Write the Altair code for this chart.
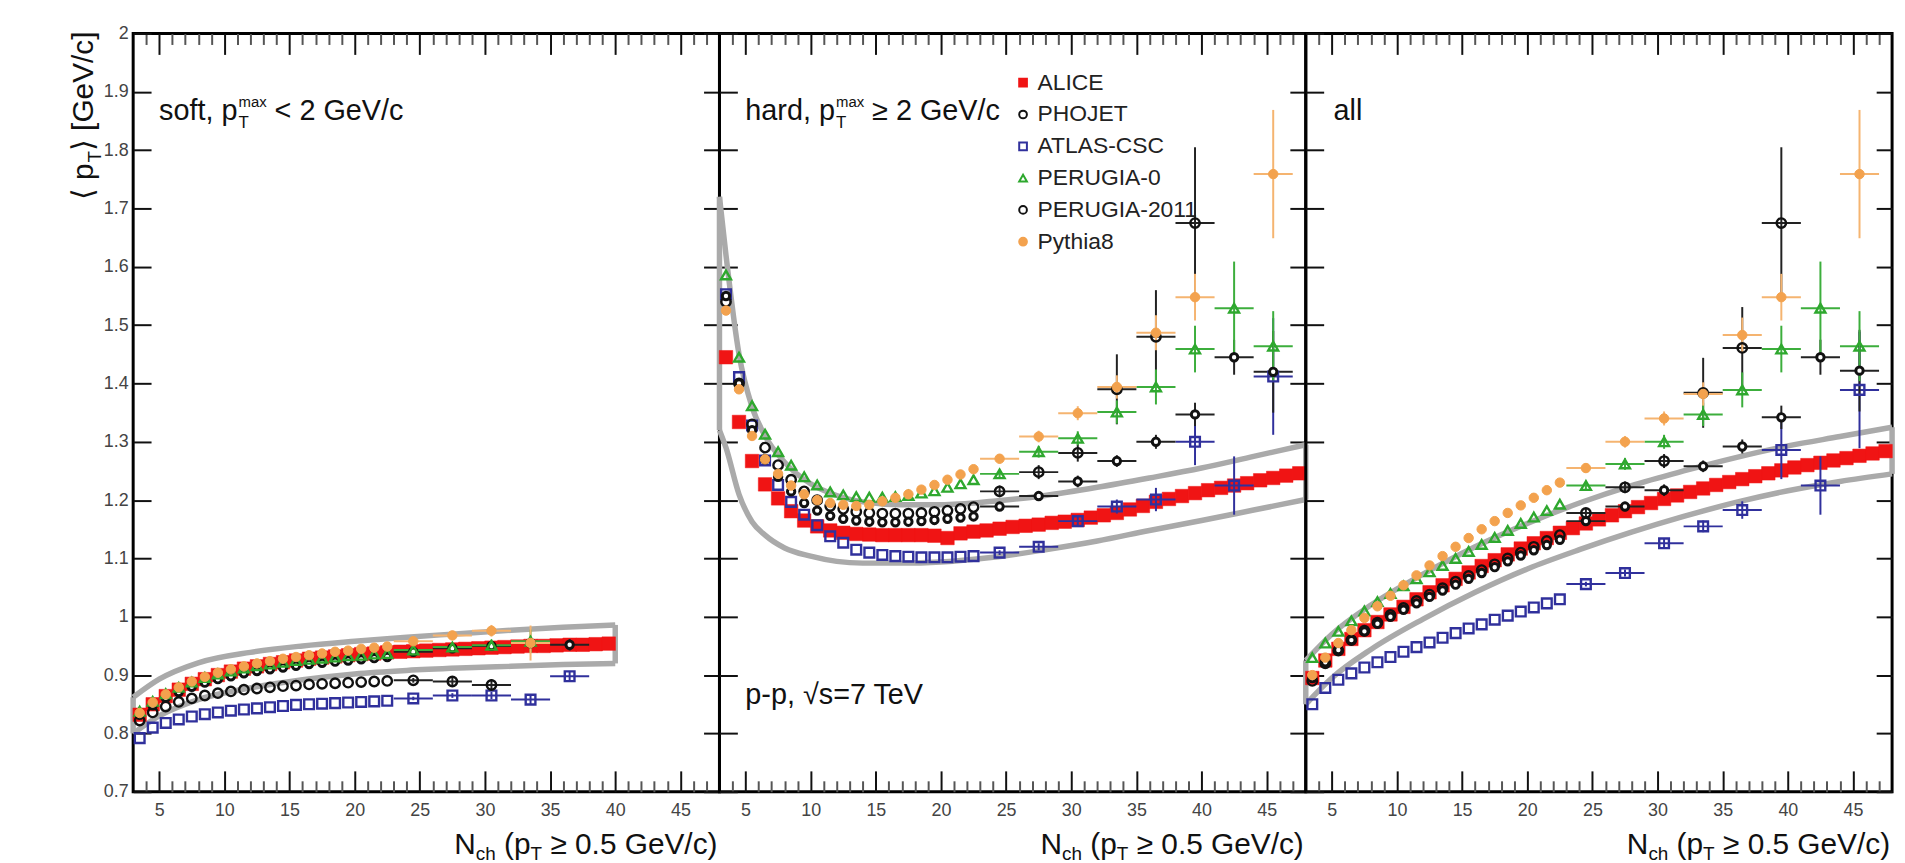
import altair as alt
import pandas as pd

FONT = "Liberation Sans"
W, H = 590, 763

SERIES = ["ALICE", "PHOJET", "ATLAS-CSC", "PERUGIA-0", "PERUGIA-2011", "Pythia8"]

# bin centres of the multiplicity classes
DENSE_N = [3.5, 4.5, 5.5, 6.5, 7.5, 8.5, 9.5, 10.5, 11.5, 12.5,
           13.5, 14.5, 15.5, 16.5, 17.5, 18.5, 19.5, 20.5, 21.5, 22.5]
BIN_N = [24.5, 27.5, 30.5, 33.5, 36.5, 39.5, 42.5, 45.5]
BIN_HALF = 1.5
ALICE_N_SOFT = [3.5, 4.5, 5.5, 6.5, 7.5, 8.5, 9.5, 10.5, 11.5, 12.5, 13.5, 14.5, 15.5,
                16.5, 17.5, 18.5, 19.5, 20.5, 21.5, 22.5, 23.5, 24.5, 25.5, 26.5, 27.5,
                28.5, 29.5, 30.5, 31.5, 32.5, 33.5, 34.5, 35.5, 36.5, 37.5, 38.5, 39.5]
ALICE_N_FULL = [3.5, 4.5, 5.5, 6.5, 7.5, 8.5, 9.5, 10.5, 11.5, 12.5, 13.5, 14.5, 15.5,
                16.5, 17.5, 18.5, 19.5, 20.5, 21.5, 22.5, 23.5, 24.5, 25.5, 26.5, 27.5,
                28.5, 29.5, 30.5, 31.5, 32.5, 33.5, 34.5, 35.5, 36.5, 37.5, 38.5, 39.5,
                40.5, 41.5, 42.5, 43.5, 44.5, 45.5, 46.5, 47.5]

X_MAJOR = [5, 10, 15, 20, 25, 30, 35, 40, 45]
X_MINOR = [4, 6, 7, 8, 9, 11, 12, 13, 14, 16, 17, 18, 19, 21, 22, 23, 24, 26, 27, 28, 29,
           31, 32, 33, 34, 36, 37, 38, 39, 41, 42, 43, 44, 46, 47]
Y_TICKS = [0.7, 0.8, 0.9, 1.0, 1.1, 1.2, 1.3, 1.4, 1.5, 1.6, 1.7, 1.8, 1.9, 2.0]

# ---------------- soft ----------------
SOFT_ALICE = [0.832, 0.850, 0.864, 0.875, 0.885, 0.893, 0.900, 0.906, 0.911, 0.915,
              0.919, 0.922, 0.925, 0.928, 0.930, 0.932, 0.934, 0.936, 0.937, 0.939,
              0.940, 0.941, 0.942, 0.943, 0.944, 0.945, 0.946, 0.947, 0.948, 0.949,
              0.950, 0.950, 0.951, 0.952, 0.952, 0.953, 0.954]
SOFT_BAND_N = [3, 5, 8, 12, 16, 20, 24, 28, 32, 36, 40]
SOFT_BAND_HI = [0.862, 0.893, 0.921, 0.939, 0.950, 0.958, 0.965, 0.971, 0.977, 0.982, 0.986]
SOFT_BAND_LO = [0.800, 0.830, 0.858, 0.878, 0.892, 0.902, 0.908, 0.912, 0.915, 0.918, 0.920]

SOFT_PHOJET = [0.822, 0.836, 0.846, 0.854, 0.860, 0.865, 0.869, 0.872, 0.875, 0.877,
               0.879, 0.881, 0.882, 0.884, 0.885, 0.886, 0.887, 0.888, 0.889, 0.890]
SOFT_PHOJET_BINS = [0.891, 0.889, 0.883]
SOFT_PHOJET_ERR = [0.004, 0.006, 0.010]
SOFT_ATLAS = [0.792, 0.810, 0.818, 0.824, 0.829, 0.833, 0.836, 0.839, 0.841, 0.843,
              0.845, 0.847, 0.849, 0.850, 0.851, 0.852, 0.853, 0.854, 0.855, 0.856]
SOFT_ATLAS_BINS = [0.860, 0.865, 0.865, 0.858, 0.898]
SOFT_ATLAS_ERR = [0.003, 0.004, 0.006, 0.008, 0.008]
SOFT_P0 = [0.838, 0.855, 0.868, 0.879, 0.888, 0.896, 0.902, 0.907, 0.912, 0.916,
           0.919, 0.922, 0.925, 0.927, 0.929, 0.931, 0.933, 0.934, 0.936, 0.937]
SOFT_P0_BINS = [0.943, 0.948, 0.951, 0.958]
SOFT_P0_ERR = [0.005, 0.007, 0.010, 0.020]
SOFT_P11 = [0.832, 0.848, 0.861, 0.871, 0.880, 0.887, 0.893, 0.898, 0.903, 0.907,
            0.910, 0.913, 0.916, 0.919, 0.921, 0.923, 0.925, 0.927, 0.929, 0.931]
SOFT_P11_BINS = [0.940, 0.946, 0.950, 0.955, 0.952]
SOFT_P11_ERR = [0.005, 0.006, 0.008, 0.010, 0.010]
SOFT_PY8 = [0.835, 0.853, 0.867, 0.879, 0.889, 0.897, 0.904, 0.910, 0.915, 0.920,
            0.924, 0.928, 0.931, 0.934, 0.937, 0.940, 0.942, 0.945, 0.947, 0.949]
SOFT_PY8_BINS = [0.958, 0.968, 0.976, 0.955]
SOFT_PY8_ERR = [0.006, 0.008, 0.010, 0.030]

# ---------------- hard ----------------
HARD_ALICE = [1.445, 1.334, 1.267, 1.227, 1.203, 1.181, 1.165, 1.155, 1.148, 1.144,
              1.142, 1.141, 1.140, 1.140, 1.140, 1.140, 1.139, 1.135, 1.143, 1.146,
              1.148, 1.151, 1.154, 1.156, 1.158, 1.161, 1.163, 1.166, 1.170, 1.174,
              1.178, 1.184, 1.190, 1.197, 1.202, 1.207, 1.212, 1.217, 1.221, 1.225,
              1.229, 1.234, 1.238, 1.242, 1.246]
HARD_BAND_N = [3, 3.5, 4.5, 5.5, 6.5, 8, 10, 12, 14, 17, 20, 24, 28, 32, 36, 40, 44, 48]
HARD_BAND_HI = [1.72, 1.62, 1.45, 1.36, 1.31, 1.265, 1.228, 1.208, 1.197, 1.192, 1.192,
                1.198, 1.208, 1.222, 1.238, 1.255, 1.275, 1.295]
HARD_BAND_LO = [1.32, 1.29, 1.21, 1.163, 1.14, 1.118, 1.104, 1.095, 1.092, 1.092, 1.094,
                1.102, 1.115, 1.130, 1.148, 1.165, 1.183, 1.201]

HARD_PHOJET = [1.54, 1.40, 1.33, 1.29, 1.26, 1.235, 1.215, 1.20, 1.19, 1.185,
               1.18, 1.178, 1.177, 1.177, 1.177, 1.178, 1.18, 1.182, 1.185, 1.188]
HARD_PHOJET_BINS = [1.215, 1.248, 1.281, 1.39, 1.48, 1.675]
HARD_PHOJET_ERR = [0.010, 0.012, 0.015, 0.06, 0.08, 0.13]
HARD_ATLAS = [1.553, 1.411, 1.328, 1.268, 1.226, 1.197, 1.175, 1.157, 1.138, 1.127,
              1.115, 1.110, 1.106, 1.104, 1.103, 1.102, 1.102, 1.102, 1.103, 1.104]
HARD_ATLAS_BINS = [1.110, 1.120, 1.164, 1.189, 1.201, 1.30, 1.225, 1.412]
HARD_ATLAS_ERR = [0.004, 0.006, 0.010, 0.012, 0.020, 0.04, 0.05, 0.10]
HARD_P0 = [1.586, 1.445, 1.362, 1.313, 1.283, 1.26, 1.24, 1.226, 1.214, 1.209,
           1.206, 1.205, 1.205, 1.206, 1.208, 1.212, 1.216, 1.222, 1.228, 1.235]
HARD_P0_BINS = [1.245, 1.283, 1.306, 1.351, 1.394, 1.459, 1.529, 1.464]
HARD_P0_ERR = [0.006, 0.010, 0.012, 0.02, 0.03, 0.04, 0.08, 0.06]
HARD_P11 = [1.55, 1.40, 1.32, 1.27, 1.24, 1.215, 1.195, 1.182, 1.173, 1.168,
            1.165, 1.163, 1.162, 1.162, 1.163, 1.164, 1.166, 1.168, 1.170, 1.172]
HARD_P11_BINS = [1.189, 1.207, 1.232, 1.267, 1.30, 1.347, 1.445, 1.42]
HARD_P11_ERR = [0.005, 0.008, 0.010, 0.010, 0.012, 0.02, 0.03, 0.07]
HARD_PY8 = [1.525, 1.39, 1.31, 1.27, 1.245, 1.225, 1.21, 1.20, 1.195, 1.192,
            1.19, 1.192, 1.198, 1.204, 1.21, 1.218, 1.226, 1.235, 1.244, 1.253]
HARD_PY8_BINS = [1.271, 1.309, 1.349, 1.394, 1.487, 1.548, None, 1.759]
HARD_PY8_ERR = [0.008, 0.010, 0.012, 0.02, 0.03, 0.04, 0.0, 0.11]

# ---------------- all ----------------
ALL_ALICE = [0.895, 0.925, 0.945, 0.962, 0.977, 0.991, 1.004, 1.017, 1.030, 1.042,
             1.054, 1.065, 1.076, 1.087, 1.097, 1.107, 1.117, 1.126, 1.135, 1.144,
             1.152, 1.160, 1.167, 1.174, 1.181, 1.188, 1.195, 1.202, 1.208, 1.214,
             1.220, 1.226, 1.231, 1.236, 1.241, 1.246, 1.251, 1.256, 1.260, 1.264,
             1.268, 1.272, 1.276, 1.280, 1.284]
ALL_BAND_N = [3, 5, 8, 12, 16, 20, 24, 28, 32, 36, 40, 44, 48]
ALL_BAND_HI = [0.925, 0.97, 1.02, 1.073, 1.12, 1.160, 1.195, 1.225, 1.25, 1.273, 1.293, 1.309, 1.325]
ALL_BAND_LO = [0.85, 0.895, 0.944, 0.996, 1.042, 1.082, 1.115, 1.145, 1.172, 1.196, 1.216, 1.232, 1.245]

ALL_PHOJET = [0.89, 0.92, 0.942, 0.96, 0.976, 0.99, 1.003, 1.015, 1.027, 1.038,
              1.049, 1.06, 1.07, 1.08, 1.09, 1.10, 1.11, 1.12, 1.13, 1.14]
ALL_PHOJET_BINS = [1.178, 1.222, 1.267, 1.384, 1.461, 1.675]
ALL_PHOJET_ERR = [0.008, 0.010, 0.012, 0.06, 0.07, 0.13]
ALL_ATLAS = [0.85, 0.878, 0.892, 0.903, 0.913, 0.922, 0.931, 0.940, 0.948, 0.956,
             0.964, 0.972, 0.980, 0.987, 0.995, 1.002, 1.009, 1.016, 1.023, 1.030]
ALL_ATLAS_BINS = [1.056, 1.075, 1.126, 1.155, 1.183, 1.286, 1.225, 1.389]
ALL_ATLAS_ERR = [0.004, 0.006, 0.008, 0.010, 0.015, 0.05, 0.05, 0.10]
ALL_P0 = [0.93, 0.955, 0.975, 0.993, 1.01, 1.026, 1.04, 1.053, 1.065, 1.077,
          1.088, 1.10, 1.112, 1.124, 1.136, 1.148, 1.16, 1.171, 1.182, 1.193]
ALL_P0_BINS = [1.225, 1.262, 1.30, 1.347, 1.389, 1.459, 1.529, 1.464]
ALL_P0_ERR = [0.006, 0.010, 0.012, 0.02, 0.03, 0.04, 0.08, 0.06]
ALL_P11 = [0.895, 0.922, 0.943, 0.96, 0.975, 0.988, 1.0, 1.012, 1.023, 1.034,
           1.045, 1.055, 1.065, 1.075, 1.085, 1.095, 1.105, 1.114, 1.123, 1.132]
ALL_P11_BINS = [1.164, 1.189, 1.217, 1.258, 1.292, 1.342, 1.445, 1.422]
ALL_P11_ERR = [0.005, 0.008, 0.010, 0.010, 0.012, 0.02, 0.03, 0.07]
ALL_PY8 = [0.90, 0.93, 0.955, 0.977, 0.998, 1.018, 1.036, 1.054, 1.071, 1.088,
           1.104, 1.12, 1.135, 1.15, 1.164, 1.178, 1.191, 1.204, 1.217, 1.23]
ALL_PY8_BINS = [1.255, 1.30, 1.34, 1.382, 1.483, 1.548, None, 1.759]
ALL_PY8_ERR = [0.008, 0.010, 0.012, 0.02, 0.03, 0.04, 0.0, 0.11]

# ---------------- styles ----------------
STYLE = {
    "ALICE":        dict(shape="square",      fill="#f01414",     stroke="#f01414", size=185, sw=0.5),
    "PHOJET":       dict(shape="circle",      fill="transparent", stroke="#111111", size=90,  sw=2.4),
    "ATLAS-CSC":    dict(shape="square",      fill="transparent", stroke="#30309c", size=95,  sw=2.4),
    "PERUGIA-0":    dict(shape="triangle-up", fill="transparent", stroke="#2ea82e", size=100, sw=2.4),
    "PERUGIA-2011": dict(shape="circle",      fill="#ffffff",     stroke="#111111", size=55,  sw=3),
    "Pythia8":      dict(shape="circle",      fill="#f3a24e",     stroke="#f3a24e", size=90,  sw=1),
}
ERR_COLOR = {"PHOJET": "#222222", "ATLAS-CSC": "#30309c", "PERUGIA-0": "#3cae3c",
             "PERUGIA-2011": "#222222", "Pythia8": "#f5b470"}
DRAW_ORDER = ["ATLAS-CSC", "PHOJET", "PERUGIA-2011", "PERUGIA-0", "Pythia8"]

XS = alt.Scale(domain=[3, 48], nice=False, zero=False)
YS = alt.Scale(domain=[0.7, 2.0], nice=False, zero=False)
SHAPE_SCALE = alt.Scale(domain=SERIES, range=[STYLE[s]["shape"] for s in SERIES])
FILL_SCALE = alt.Scale(domain=SERIES, range=[STYLE[s]["fill"] for s in SERIES])
STROKE_SCALE = alt.Scale(domain=SERIES, range=[STYLE[s]["stroke"] for s in SERIES])
LEGEND = alt.Legend(orient="none", legendX=884, legendY=38, title=None, padding=0, offset=0,
                    labelFont=FONT, labelFontSize=23, labelColor="#222222", labelOffset=3,
                    labelLimit=400, symbolSize=60, symbolStrokeWidth=2, rowPadding=8)

CHAR_W = {'N': 722, 'c': 500, 'h': 556, ' ': 278, '(': 333, 'p': 556, 'T': 611, '≥': 549,
          '0': 556, '.': 278, '5': 556, 'G': 778, 'e': 556, 'V': 667, '/': 278, ')': 333,
          '[': 278, ']': 278, '⟩': 390, '⟨': 390, 's': 500, 'o': 556, 'f': 278, 't': 278,
          ',': 278, '<': 584, '2': 556, 'a': 556, 'r': 333, 'd': 556, 'm': 833, 'x': 500}


def tw(s, size):
    return sum(CHAR_W.get(ch, 556) for ch in s) * size / 1000.0


def build_frame(alice_n, alice_v, mc):
    rows = []
    for n, v in zip(alice_n, alice_v):
        rows.append(dict(series="ALICE", n=n, v=v, nlo=n, nhi=n, vlo=v, vhi=v, binned=False))
    for name, (dense, bins, errs) in mc.items():
        for n, v in zip(DENSE_N, dense):
            rows.append(dict(series=name, n=n, v=v, nlo=n, nhi=n, vlo=v, vhi=v, binned=False))
        for n, v, e in zip(BIN_N, bins, errs):
            if v is None:
                continue
            rows.append(dict(series=name, n=n, v=v, nlo=n - BIN_HALF, nhi=n + BIN_HALF,
                             vlo=v - e, vhi=v + e, binned=True))
    df = pd.DataFrame(rows)
    df["ecol"] = df["series"].map(lambda s: ERR_COLOR.get(s, "#000000"))
    return df


def tick_axis(orient, values, size, labels=False, color="#111111"):
    kw = dict(orient=orient, values=values, tickSize=size, offset=-size, labels=labels,
              domain=False, grid=False, tickColor=color, tickWidth=2, title=None,
              labelFlush=False, labelOverlap=False, labelFont=FONT, labelFontSize=18,
              labelColor="#444444")
    if orient in ("left", "right"):
        kw["format"] = ".1~f"
        kw["labelPadding"] = 5
    else:
        kw["labelPadding"] = 10
    return alt.Axis(**kw)


def axis_layer(df, xaxis, yaxis):
    return alt.Chart(df).mark_point(opacity=0).encode(
        x=alt.X("n:Q", scale=XS, axis=xaxis),
        y=alt.Y("v:Q", scale=YS, axis=yaxis))


def text_mark(s, x, y, size, align="left", angle=0, dx=0, dy=0, color="#111111"):
    props = dict(text=s, font=FONT, fontSize=size, align=align, baseline="alphabetic",
                 color=color, dx=dx, dy=dy)
    if angle:
        props["angle"] = angle
    return alt.Chart(pd.DataFrame({"k": [0]})).mark_text(**props).encode(
        x=alt.value(x), y=alt.value(y))


def xtitle_marks():
    F, S = 30, 19
    base = H + 63
    right = W - 2
    marks = []
    p3 = " ≥ 0.5 GeV/c)"
    marks.append(text_mark(p3, right, base, F, align="right"))
    r = right - tw(p3, F)
    marks.append(text_mark("T", r, base + 6, S, align="right"))
    r -= tw("T", S)
    marks.append(text_mark(" (p", r, base, F, align="right"))
    r -= tw(" (p", F)
    marks.append(text_mark("ch", r, base + 6, S, align="right"))
    r -= tw("ch", S)
    marks.append(text_mark("N", r, base, F, align="right"))
    return marks


def ytitle_marks():
    F, S = 30, 19
    x0, y0 = -40, -2
    marks = []
    p3 = "⟩ [GeV/c]"
    marks.append(text_mark(p3, x0, y0, F, align="right", angle=270))
    off = tw(p3, F)
    marks.append(text_mark("T", x0, y0, S, align="right", angle=270, dx=-off, dy=8))
    off += tw("T", S) + 1
    marks.append(text_mark("⟨ p", x0, y0, F, align="right", angle=270, dx=-off))
    return marks


def label_marks(lead, rest):
    F = 29
    x0, base = 26, 87
    marks = [text_mark(lead, x0, base, F)]
    xs = x0 + tw(lead, F)
    marks.append(text_mark("T", xs + 1, base + 8, 17))
    marks.append(text_mark("max", xs + 1, base - 13, 15))
    marks.append(text_mark(rest, xs + tw("max", 15) + 9, base, F))
    return marks


def panel(first, alice_n, alice_v, mc, band_n, band_hi, band_lo, extra):
    df = build_frame(alice_n, alice_v, mc)
    band = pd.DataFrame(
        [dict(edge="hi", n=n, v=v) for n, v in zip(band_n, band_hi)]
        + [dict(edge="lo", n=n, v=v) for n, v in zip(band_n, band_lo)])
    ends = pd.DataFrame([dict(n=band_n[0], lo=band_lo[0], hi=band_hi[0]),
                         dict(n=band_n[-1], lo=band_lo[-1], hi=band_hi[-1])])
    bins = df[df["binned"]]

    layers = [
        axis_layer(band, tick_axis("bottom", X_MAJOR, 21, labels=True),
                   tick_axis("left", Y_TICKS, 18, labels=first)),
        axis_layer(band, tick_axis("bottom", X_MINOR, 11, color="#555555"),
                   tick_axis("right", Y_TICKS, 16)),
        axis_layer(band, tick_axis("top", X_MAJOR, 21), None),
        axis_layer(band, tick_axis("top", X_MINOR, 11, color="#555555"), None),
        alt.Chart(band).mark_line(color="#aaaaaa", strokeWidth=5.5, interpolate="monotone").encode(
            x=alt.X("n:Q", scale=XS, axis=None), y=alt.Y("v:Q", scale=YS, axis=None),
            detail="edge:N"),
        alt.Chart(ends).mark_rule(color="#aaaaaa", strokeWidth=5.5).encode(
            x=alt.X("n:Q", scale=XS, axis=None), y=alt.Y("lo:Q", scale=YS, axis=None), y2="hi:Q"),
    ]

    def pts(name):
        st = STYLE[name]
        return alt.Chart(df).transform_filter(alt.datum.series == name).mark_point(
            size=st["size"], strokeWidth=st["sw"], opacity=1).encode(
            x=alt.X("n:Q", scale=XS, axis=None),
            y=alt.Y("v:Q", scale=YS, axis=None),
            shape=alt.Shape("series:N", scale=SHAPE_SCALE, legend=LEGEND),
            fill=alt.Fill("series:N", scale=FILL_SCALE, legend=LEGEND),
            stroke=alt.Stroke("series:N", scale=STROKE_SCALE, legend=LEGEND))

    layers.append(pts("ALICE"))
    layers.append(alt.Chart(bins).mark_rule(strokeWidth=2).encode(
        x=alt.X("nlo:Q", scale=XS, axis=None), x2="nhi:Q",
        y=alt.Y("v:Q", scale=YS, axis=None), color=alt.Color("ecol:N", scale=None)))
    layers.append(alt.Chart(bins).mark_rule(strokeWidth=2).encode(
        x=alt.X("n:Q", scale=XS, axis=None),
        y=alt.Y("vlo:Q", scale=YS, axis=None), y2="vhi:Q",
        color=alt.Color("ecol:N", scale=None)))
    for name in DRAW_ORDER:
        layers.append(pts(name))
    layers += xtitle_marks()
    layers += extra
    return alt.layer(*layers).resolve_axis(x="independent", y="independent").properties(
        width=W, height=H)


soft = panel(True, ALICE_N_SOFT, SOFT_ALICE, {
    "ATLAS-CSC": (SOFT_ATLAS, SOFT_ATLAS_BINS, SOFT_ATLAS_ERR),
    "PHOJET": (SOFT_PHOJET, SOFT_PHOJET_BINS, SOFT_PHOJET_ERR),
    "PERUGIA-2011": (SOFT_P11, SOFT_P11_BINS, SOFT_P11_ERR),
    "PERUGIA-0": (SOFT_P0, SOFT_P0_BINS, SOFT_P0_ERR),
    "Pythia8": (SOFT_PY8, SOFT_PY8_BINS, SOFT_PY8_ERR),
}, SOFT_BAND_N, SOFT_BAND_HI, SOFT_BAND_LO,
    label_marks("soft, p", " < 2 GeV/c") + ytitle_marks())

hard = panel(False, ALICE_N_FULL, HARD_ALICE, {
    "ATLAS-CSC": (HARD_ATLAS, HARD_ATLAS_BINS, HARD_ATLAS_ERR),
    "PHOJET": (HARD_PHOJET, HARD_PHOJET_BINS, HARD_PHOJET_ERR),
    "PERUGIA-2011": (HARD_P11, HARD_P11_BINS, HARD_P11_ERR),
    "PERUGIA-0": (HARD_P0, HARD_P0_BINS, HARD_P0_ERR),
    "Pythia8": (HARD_PY8, HARD_PY8_BINS, HARD_PY8_ERR),
}, HARD_BAND_N, HARD_BAND_HI, HARD_BAND_LO,
    label_marks("hard, p", " ≥ 2 GeV/c") + [text_mark("p-p, √s=7 TeV", 26, 675, 29)])

allp = panel(False, ALICE_N_FULL, ALL_ALICE, {
    "ATLAS-CSC": (ALL_ATLAS, ALL_ATLAS_BINS, ALL_ATLAS_ERR),
    "PHOJET": (ALL_PHOJET, ALL_PHOJET_BINS, ALL_PHOJET_ERR),
    "PERUGIA-2011": (ALL_P11, ALL_P11_BINS, ALL_P11_ERR),
    "PERUGIA-0": (ALL_P0, ALL_P0_BINS, ALL_P0_ERR),
    "Pythia8": (ALL_PY8, ALL_PY8_BINS, ALL_PY8_ERR),
}, ALL_BAND_N, ALL_BAND_HI, ALL_BAND_LO,
    [text_mark("all", 28, 87, 29)])

chart = alt.hconcat(soft, hard, allp, spacing=0, bounds="flush").properties(
    padding={"left": 68, "top": 20, "right": 0, "bottom": 0}
).configure_view(stroke="#000000", strokeWidth=3)

chart.save("out.html", embed_options={"renderer": "svg", "actions": False})
